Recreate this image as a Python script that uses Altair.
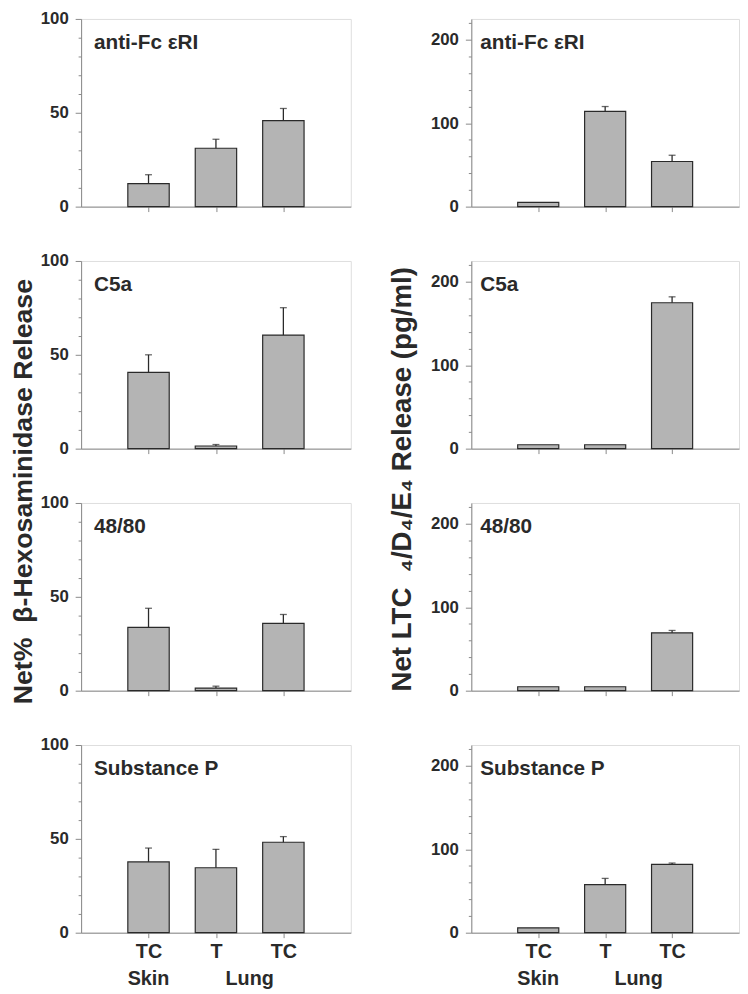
import altair as alt
import pandas as pd

# ---------------- data ----------------
categories = ["TC", "T", "TC"]
tissues = ["Skin", "Lung", "Lung"]
stimuli = ["anti-Fc εRI", "C5a", "48/80", "Substance P"]

hex_mean = [[12.3, 31.1, 45.8], [40.6, 1.4, 60.5], [33.7, 1.4, 35.9], [37.7, 34.6, 48.2]]
hex_upper = [[17.0, 35.9, 52.3], [50.0, 2.2, 75.1], [43.9, 2.4, 40.6], [45.1, 44.4, 51.2]]

ltc_mean = [[5.1, 114.1, 54.1], [4.7, 4.7, 174.9], [4.7, 4.7, 69.4], [5.9, 57.6, 82.0]]
ltc_upper = [[5.1, 120.0, 61.6], [4.7, 4.7, 182.0], [4.7, 4.7, 72.2], [5.9, 65.1, 83.5]]

hex_title = "Net%\u00a0 β-Hexosaminidase Release"
ltc_title = "Net LTC\u00a0 ₄/D₄/E₄ Release (pg/ml)"

FONT = "Liberation Sans"
INK = "#2a2a2a"
BAR_FILL = "#b4b4b4"

PW_L, PW_R, PH = 273, 271, 190


def panel(idx, means, uppers, ymax, step, major, is_bottom, width, text_dx):
    df = pd.DataFrame({
        "cat": categories,
        "tissue": tissues,
        "pos": list(range(1, len(categories) + 1)),
        "mean": means[idx],
        "hi": uppers[idx],
    })
    xs = alt.Scale(domain=[0, len(categories) + 1], nice=False, zero=False)
    ys = alt.Scale(domain=[0, ymax], nice=False)
    xaxis = alt.Axis(
        values=list(range(1, len(categories) + 1)),
        labels=is_bottom,
        labelExpr="datum.value === 2 ? 'T' : 'TC'",
        title=None, grid=False, tickSize=5, labelFontSize=20, labelPadding=4,
        labelFontWeight="bold", labelFont=FONT, labelColor=INK,
    )
    yaxis = alt.Axis(
        values=list(range(0, int(ymax) + 1, step)),
        labelExpr=f"datum.value % {major} === 0 ? datum.label : ''",
        tickSize={"condition": {"test": f"datum.value % {major} === 0", "value": 6}, "value": 3},
        title=None, grid=False, labelFontSize=17, labelPadding=7,
        labelFontWeight="bold", labelFont=FONT, labelColor=INK,
    )
    base = alt.Chart(df)
    bars = base.transform_calculate(
        x0="datum.pos - 0.307", x1="datum.pos + 0.307"
    ).mark_bar(fill=BAR_FILL, stroke=INK, strokeWidth=1.2).encode(
        x=alt.X("x0:Q", scale=xs, axis=xaxis),
        x2="x1:Q",
        y=alt.Y("mean:Q", scale=ys, axis=yaxis),
        y2=alt.datum(0),
    )
    err = base.transform_filter("datum.hi > datum.mean + 0.3").mark_rule(
        color=INK, strokeWidth=1.3
    ).encode(
        x=alt.X("pos:Q", scale=xs, axis=xaxis),
        y=alt.Y("mean:Q", scale=ys, axis=yaxis),
        y2="hi:Q",
    )
    cap = base.transform_filter("datum.hi > datum.mean + 0.3").mark_tick(
        orient="horizontal", size=7, thickness=1.3, color=INK
    ).encode(
        x=alt.X("pos:Q", scale=xs, axis=xaxis),
        y=alt.Y("hi:Q", scale=ys, axis=yaxis),
    )
    label = alt.Chart(pd.DataFrame({"t": [stimuli[idx]]})).mark_text(
        align="left", baseline="alphabetic", fontSize=21, fontWeight="bold",
        font=FONT, color=INK,
    ).encode(x=alt.value(text_dx), y=alt.value(30), text="t:N")
    layers = [bars, err, cap, label]
    if is_bottom:
        g = df.groupby("tissue", sort=False)["pos"].mean().reset_index()
        groups = alt.Chart(g).mark_text(
            baseline="alphabetic", fontSize=20, fontWeight="bold", font=FONT, color=INK
        ).encode(
            x=alt.X("pos:Q", scale=xs, axis=xaxis),
            y=alt.value(PH + 53),
            text="tissue:N",
        )
        layers.append(groups)
    return alt.layer(*layers).properties(width=width, height=PH)


n = len(stimuli)
left_col = alt.vconcat(
    *[panel(i, hex_mean, hex_upper, 100, 10, 50, i == n - 1, PW_L, 13) for i in range(n)],
    spacing=55, bounds="flush",
).properties(title=alt.TitleParams(
    hex_title, orient="left", anchor="middle", fontSize=27, font=FONT,
    fontWeight="bold", color=INK, offset=2, dx=8,
))
right_col = alt.vconcat(
    *[panel(i, ltc_mean, ltc_upper, 225, 20, 100, i == n - 1, PW_R, 9) for i in range(n)],
    spacing=55, bounds="flush",
).properties(title=alt.TitleParams(
    ltc_title, orient="left", anchor="middle", fontSize=28, font=FONT,
    fontWeight="bold", color=INK, offset=13, dx=25,
))

chart = alt.hconcat(left_col, right_col, spacing=38).configure_view(
    stroke=INK, strokeWidth=1.3
).configure_axis(
    domainColor=INK, domainWidth=1.3, tickColor=INK, tickWidth=1.2,
).configure(background="white", padding={"top": -5, "left": 2, "right": 0, "bottom": 0})

chart.save("out.html", embed_options={"renderer": "svg", "actions": False})
